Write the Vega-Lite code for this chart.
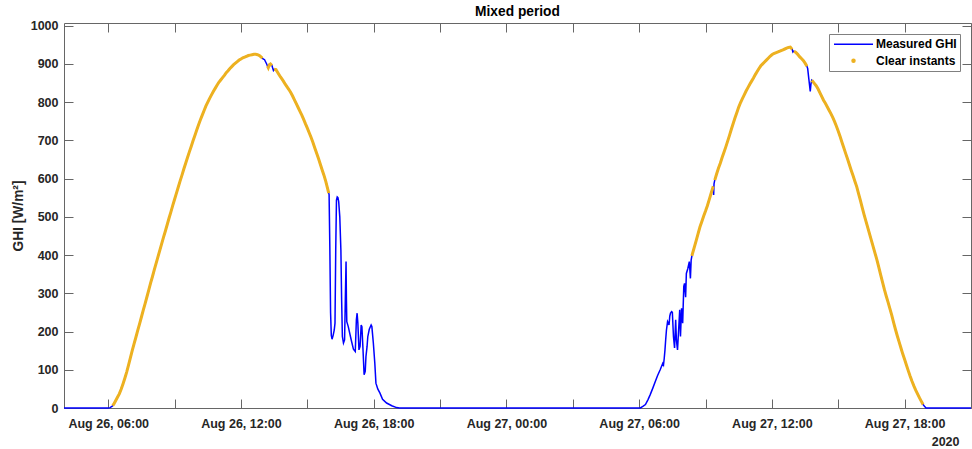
{
  "width": 907,
  "height": 385,
  "autosize": {"type": "none"},
  "padding": {"left": 64, "top": 23, "right": 1, "bottom": 41},
  "background": "white",
  "config": {"view": {"stroke": null}, "font": "Liberation Sans"},
  "title": {"text": "Mixed period", "fontSize": 13.75, "fontWeight": "bold", "font": "Liberation Sans", "color": "#000000", "offset": 1},
  "data": {"values": [
    {"t":"2020-08-26T04:00","g":0,"c":null},
    {"t":"2020-08-26T06:00","g":0,"c":null},
    {"t":"2020-08-26T06:05","g":1,"c":null},
    {"t":"2020-08-26T06:10","g":4,"c":null},
    {"t":"2020-08-26T06:12","g":6,"c":6},
    {"t":"2020-08-26T06:15","g":10,"c":10},
    {"t":"2020-08-26T06:20","g":19,"c":19},
    {"t":"2020-08-26T06:25","g":28,"c":28},
    {"t":"2020-08-26T06:30","g":37,"c":37},
    {"t":"2020-08-26T06:35","g":49,"c":49},
    {"t":"2020-08-26T06:40","g":63,"c":63},
    {"t":"2020-08-26T06:45","g":78,"c":78},
    {"t":"2020-08-26T06:50","g":94,"c":94},
    {"t":"2020-08-26T06:55","g":112,"c":112},
    {"t":"2020-08-26T07:00","g":131,"c":131},
    {"t":"2020-08-26T07:05","g":150,"c":150},
    {"t":"2020-08-26T07:10","g":168,"c":168},
    {"t":"2020-08-26T07:15","g":185,"c":185},
    {"t":"2020-08-26T07:20","g":203,"c":203},
    {"t":"2020-08-26T07:25","g":220,"c":220},
    {"t":"2020-08-26T07:30","g":238,"c":238},
    {"t":"2020-08-26T07:35","g":256,"c":256},
    {"t":"2020-08-26T07:40","g":273,"c":273},
    {"t":"2020-08-26T07:45","g":291,"c":291},
    {"t":"2020-08-26T07:50","g":309,"c":309},
    {"t":"2020-08-26T07:55","g":327,"c":327},
    {"t":"2020-08-26T08:00","g":344,"c":344},
    {"t":"2020-08-26T08:05","g":362,"c":362},
    {"t":"2020-08-26T08:10","g":379,"c":379},
    {"t":"2020-08-26T08:15","g":396,"c":396},
    {"t":"2020-08-26T08:20","g":413,"c":413},
    {"t":"2020-08-26T08:25","g":430,"c":430},
    {"t":"2020-08-26T08:30","g":447,"c":447},
    {"t":"2020-08-26T08:35","g":463,"c":463},
    {"t":"2020-08-26T08:40","g":480,"c":480},
    {"t":"2020-08-26T08:45","g":497,"c":497},
    {"t":"2020-08-26T08:50","g":513,"c":513},
    {"t":"2020-08-26T08:55","g":530,"c":530},
    {"t":"2020-08-26T09:00","g":546,"c":546},
    {"t":"2020-08-26T09:05","g":562,"c":562},
    {"t":"2020-08-26T09:10","g":578,"c":578},
    {"t":"2020-08-26T09:15","g":594,"c":594},
    {"t":"2020-08-26T09:20","g":609,"c":609},
    {"t":"2020-08-26T09:25","g":625,"c":625},
    {"t":"2020-08-26T09:30","g":640,"c":640},
    {"t":"2020-08-26T09:35","g":655,"c":655},
    {"t":"2020-08-26T09:40","g":670,"c":670},
    {"t":"2020-08-26T09:45","g":684,"c":684},
    {"t":"2020-08-26T09:50","g":699,"c":699},
    {"t":"2020-08-26T09:55","g":713,"c":713},
    {"t":"2020-08-26T10:00","g":727,"c":727},
    {"t":"2020-08-26T10:05","g":741,"c":741},
    {"t":"2020-08-26T10:10","g":754,"c":754},
    {"t":"2020-08-26T10:15","g":766,"c":766},
    {"t":"2020-08-26T10:20","g":778,"c":778},
    {"t":"2020-08-26T10:25","g":790,"c":790},
    {"t":"2020-08-26T10:30","g":800,"c":800},
    {"t":"2020-08-26T10:35","g":810,"c":810},
    {"t":"2020-08-26T10:40","g":819,"c":819},
    {"t":"2020-08-26T10:45","g":828,"c":828},
    {"t":"2020-08-26T10:50","g":836,"c":836},
    {"t":"2020-08-26T10:55","g":844,"c":844},
    {"t":"2020-08-26T11:00","g":852,"c":852},
    {"t":"2020-08-26T11:05","g":858,"c":858},
    {"t":"2020-08-26T11:10","g":864,"c":864},
    {"t":"2020-08-26T11:15","g":870,"c":870},
    {"t":"2020-08-26T11:20","g":877,"c":877},
    {"t":"2020-08-26T11:25","g":882,"c":882},
    {"t":"2020-08-26T11:30","g":888,"c":888},
    {"t":"2020-08-26T11:35","g":893,"c":893},
    {"t":"2020-08-26T11:40","g":898,"c":898},
    {"t":"2020-08-26T11:45","g":902,"c":902},
    {"t":"2020-08-26T11:50","g":906,"c":906},
    {"t":"2020-08-26T11:55","g":910,"c":910},
    {"t":"2020-08-26T12:00","g":913,"c":913},
    {"t":"2020-08-26T12:05","g":916,"c":916},
    {"t":"2020-08-26T12:10","g":918,"c":918},
    {"t":"2020-08-26T12:15","g":920,"c":920},
    {"t":"2020-08-26T12:20","g":922,"c":922},
    {"t":"2020-08-26T12:25","g":923,"c":923},
    {"t":"2020-08-26T12:30","g":924,"c":924},
    {"t":"2020-08-26T12:35","g":925,"c":925},
    {"t":"2020-08-26T12:40","g":925,"c":925},
    {"t":"2020-08-26T12:45","g":924,"c":924},
    {"t":"2020-08-26T12:50","g":922,"c":922},
    {"t":"2020-08-26T12:55","g":918,"c":918},
    {"t":"2020-08-26T12:58","g":915,"c":915},
    {"t":"2020-08-26T13:00","g":913,"c":null},
    {"t":"2020-08-26T13:04","g":911,"c":null},
    {"t":"2020-08-26T13:07","g":905,"c":null},
    {"t":"2020-08-26T13:10","g":899,"c":null},
    {"t":"2020-08-26T13:12","g":894,"c":894},
    {"t":"2020-08-26T13:14","g":890,"c":890},
    {"t":"2020-08-26T13:17","g":898,"c":898},
    {"t":"2020-08-26T13:20","g":900,"c":900},
    {"t":"2020-08-26T13:24","g":896,"c":896},
    {"t":"2020-08-26T13:26","g":889,"c":null},
    {"t":"2020-08-26T13:28","g":883,"c":null},
    {"t":"2020-08-26T13:30","g":886,"c":886},
    {"t":"2020-08-26T13:35","g":885,"c":885},
    {"t":"2020-08-26T13:40","g":877,"c":877},
    {"t":"2020-08-26T13:45","g":869,"c":869},
    {"t":"2020-08-26T13:50","g":862,"c":862},
    {"t":"2020-08-26T13:55","g":855,"c":855},
    {"t":"2020-08-26T14:00","g":847,"c":847},
    {"t":"2020-08-26T14:05","g":840,"c":840},
    {"t":"2020-08-26T14:10","g":833,"c":833},
    {"t":"2020-08-26T14:15","g":825,"c":825},
    {"t":"2020-08-26T14:20","g":816,"c":816},
    {"t":"2020-08-26T14:25","g":806,"c":806},
    {"t":"2020-08-26T14:30","g":796,"c":796},
    {"t":"2020-08-26T14:35","g":786,"c":786},
    {"t":"2020-08-26T14:40","g":776,"c":776},
    {"t":"2020-08-26T14:45","g":766,"c":766},
    {"t":"2020-08-26T14:50","g":755,"c":755},
    {"t":"2020-08-26T14:55","g":743,"c":743},
    {"t":"2020-08-26T15:00","g":732,"c":732},
    {"t":"2020-08-26T15:05","g":720,"c":720},
    {"t":"2020-08-26T15:10","g":708,"c":708},
    {"t":"2020-08-26T15:15","g":695,"c":695},
    {"t":"2020-08-26T15:20","g":681,"c":681},
    {"t":"2020-08-26T15:25","g":667,"c":667},
    {"t":"2020-08-26T15:30","g":653,"c":653},
    {"t":"2020-08-26T15:35","g":638,"c":638},
    {"t":"2020-08-26T15:40","g":623,"c":623},
    {"t":"2020-08-26T15:45","g":609,"c":609},
    {"t":"2020-08-26T15:50","g":593,"c":593},
    {"t":"2020-08-26T15:55","g":574,"c":574},
    {"t":"2020-08-26T15:58","g":562,"c":562},
    {"t":"2020-08-26T15:59","g":558,"c":null},
    {"t":"2020-08-26T16:01","g":420,"c":null},
    {"t":"2020-08-26T16:03","g":250,"c":null},
    {"t":"2020-08-26T16:05","g":190,"c":null},
    {"t":"2020-08-26T16:07","g":180,"c":null},
    {"t":"2020-08-26T16:10","g":190,"c":null},
    {"t":"2020-08-26T16:13","g":204,"c":null},
    {"t":"2020-08-26T16:15","g":222,"c":null},
    {"t":"2020-08-26T16:17","g":413,"c":null},
    {"t":"2020-08-26T16:19","g":544,"c":null},
    {"t":"2020-08-26T16:21","g":552,"c":null},
    {"t":"2020-08-26T16:23","g":550,"c":null},
    {"t":"2020-08-26T16:25","g":540,"c":null},
    {"t":"2020-08-26T16:28","g":500,"c":null},
    {"t":"2020-08-26T16:31","g":413,"c":null},
    {"t":"2020-08-26T16:33","g":283,"c":null},
    {"t":"2020-08-26T16:35","g":187,"c":null},
    {"t":"2020-08-26T16:38","g":170,"c":null},
    {"t":"2020-08-26T16:41","g":178,"c":null},
    {"t":"2020-08-26T16:43","g":283,"c":null},
    {"t":"2020-08-26T16:45","g":383,"c":null},
    {"t":"2020-08-26T16:46","g":283,"c":null},
    {"t":"2020-08-26T16:47","g":226,"c":null},
    {"t":"2020-08-26T16:51","g":213,"c":null},
    {"t":"2020-08-26T16:56","g":191,"c":null},
    {"t":"2020-08-26T17:00","g":174,"c":null},
    {"t":"2020-08-26T17:05","g":154,"c":null},
    {"t":"2020-08-26T17:10","g":148,"c":null},
    {"t":"2020-08-26T17:13","g":231,"c":null},
    {"t":"2020-08-26T17:15","g":248,"c":null},
    {"t":"2020-08-26T17:17","g":222,"c":null},
    {"t":"2020-08-26T17:20","g":152,"c":null},
    {"t":"2020-08-26T17:23","g":161,"c":null},
    {"t":"2020-08-26T17:26","g":217,"c":null},
    {"t":"2020-08-26T17:28","g":213,"c":null},
    {"t":"2020-08-26T17:31","g":152,"c":null},
    {"t":"2020-08-26T17:34","g":87,"c":null},
    {"t":"2020-08-26T17:37","g":96,"c":null},
    {"t":"2020-08-26T17:39","g":135,"c":null},
    {"t":"2020-08-26T17:42","g":161,"c":null},
    {"t":"2020-08-26T17:44","g":187,"c":null},
    {"t":"2020-08-26T17:48","g":206,"c":null},
    {"t":"2020-08-26T17:53","g":217,"c":null},
    {"t":"2020-08-26T17:55","g":213,"c":null},
    {"t":"2020-08-26T17:59","g":170,"c":null},
    {"t":"2020-08-26T18:03","g":117,"c":null},
    {"t":"2020-08-26T18:06","g":65,"c":null},
    {"t":"2020-08-26T18:11","g":50,"c":null},
    {"t":"2020-08-26T18:17","g":39,"c":null},
    {"t":"2020-08-26T18:24","g":23,"c":null},
    {"t":"2020-08-26T18:35","g":13,"c":null},
    {"t":"2020-08-26T18:49","g":6,"c":null},
    {"t":"2020-08-26T19:02","g":1,"c":null},
    {"t":"2020-08-26T19:10","g":0,"c":null},
    {"t":"2020-08-27T06:03","g":0,"c":null},
    {"t":"2020-08-27T06:10","g":4,"c":null},
    {"t":"2020-08-27T06:17","g":9,"c":null},
    {"t":"2020-08-27T06:24","g":22,"c":null},
    {"t":"2020-08-27T06:30","g":35,"c":null},
    {"t":"2020-08-27T06:37","g":52,"c":null},
    {"t":"2020-08-27T06:44","g":70,"c":null},
    {"t":"2020-08-27T06:50","g":85,"c":null},
    {"t":"2020-08-27T06:57","g":100,"c":null},
    {"t":"2020-08-27T07:04","g":117,"c":null},
    {"t":"2020-08-27T07:06","g":113,"c":null},
    {"t":"2020-08-27T07:08","g":130,"c":null},
    {"t":"2020-08-27T07:10","g":152,"c":null},
    {"t":"2020-08-27T07:12","g":180,"c":null},
    {"t":"2020-08-27T07:14","g":204,"c":null},
    {"t":"2020-08-27T07:17","g":226,"c":null},
    {"t":"2020-08-27T07:19","g":222,"c":null},
    {"t":"2020-08-27T07:21","g":217,"c":null},
    {"t":"2020-08-27T07:23","g":240,"c":null},
    {"t":"2020-08-27T07:25","g":248,"c":null},
    {"t":"2020-08-27T07:28","g":252,"c":null},
    {"t":"2020-08-27T07:30","g":250,"c":null},
    {"t":"2020-08-27T07:33","g":187,"c":null},
    {"t":"2020-08-27T07:36","g":157,"c":null},
    {"t":"2020-08-27T07:39","g":231,"c":null},
    {"t":"2020-08-27T07:41","g":178,"c":null},
    {"t":"2020-08-27T07:44","g":152,"c":null},
    {"t":"2020-08-27T07:47","g":204,"c":null},
    {"t":"2020-08-27T07:50","g":257,"c":null},
    {"t":"2020-08-27T07:52","g":187,"c":null},
    {"t":"2020-08-27T07:55","g":261,"c":null},
    {"t":"2020-08-27T07:58","g":222,"c":null},
    {"t":"2020-08-27T08:01","g":318,"c":null},
    {"t":"2020-08-27T08:03","g":326,"c":null},
    {"t":"2020-08-27T08:06","g":290,"c":null},
    {"t":"2020-08-27T08:08","g":352,"c":null},
    {"t":"2020-08-27T08:12","g":365,"c":null},
    {"t":"2020-08-27T08:16","g":383,"c":null},
    {"t":"2020-08-27T08:19","g":339,"c":null},
    {"t":"2020-08-27T08:21","g":387,"c":null},
    {"t":"2020-08-27T08:23","g":398,"c":398},
    {"t":"2020-08-27T08:25","g":405,"c":405},
    {"t":"2020-08-27T08:30","g":422,"c":422},
    {"t":"2020-08-27T08:35","g":439,"c":439},
    {"t":"2020-08-27T08:40","g":457,"c":457},
    {"t":"2020-08-27T08:45","g":474,"c":474},
    {"t":"2020-08-27T08:50","g":488,"c":488},
    {"t":"2020-08-27T08:55","g":502,"c":502},
    {"t":"2020-08-27T09:00","g":515,"c":515},
    {"t":"2020-08-27T09:05","g":529,"c":529},
    {"t":"2020-08-27T09:10","g":545,"c":545},
    {"t":"2020-08-27T09:15","g":561,"c":561},
    {"t":"2020-08-27T09:20","g":577,"c":577},
    {"t":"2020-08-27T09:21","g":580,"c":580},
    {"t":"2020-08-27T09:22","g":557,"c":null},
    {"t":"2020-08-27T09:23","g":586,"c":null},
    {"t":"2020-08-27T09:25","g":596,"c":596},
    {"t":"2020-08-27T09:30","g":612,"c":612},
    {"t":"2020-08-27T09:35","g":627,"c":627},
    {"t":"2020-08-27T09:40","g":640,"c":640},
    {"t":"2020-08-27T09:45","g":655,"c":655},
    {"t":"2020-08-27T09:50","g":669,"c":669},
    {"t":"2020-08-27T09:55","g":683,"c":683},
    {"t":"2020-08-27T10:00","g":698,"c":698},
    {"t":"2020-08-27T10:05","g":713,"c":713},
    {"t":"2020-08-27T10:10","g":729,"c":729},
    {"t":"2020-08-27T10:15","g":744,"c":744},
    {"t":"2020-08-27T10:20","g":759,"c":759},
    {"t":"2020-08-27T10:25","g":773,"c":773},
    {"t":"2020-08-27T10:30","g":787,"c":787},
    {"t":"2020-08-27T10:35","g":799,"c":799},
    {"t":"2020-08-27T10:40","g":809,"c":809},
    {"t":"2020-08-27T10:45","g":819,"c":819},
    {"t":"2020-08-27T10:50","g":829,"c":829},
    {"t":"2020-08-27T10:55","g":838,"c":838},
    {"t":"2020-08-27T11:00","g":847,"c":847},
    {"t":"2020-08-27T11:05","g":855,"c":855},
    {"t":"2020-08-27T11:10","g":863,"c":863},
    {"t":"2020-08-27T11:15","g":872,"c":872},
    {"t":"2020-08-27T11:20","g":880,"c":880},
    {"t":"2020-08-27T11:25","g":888,"c":888},
    {"t":"2020-08-27T11:30","g":895,"c":895},
    {"t":"2020-08-27T11:35","g":900,"c":900},
    {"t":"2020-08-27T11:40","g":905,"c":905},
    {"t":"2020-08-27T11:45","g":910,"c":910},
    {"t":"2020-08-27T11:50","g":915,"c":915},
    {"t":"2020-08-27T11:55","g":920,"c":920},
    {"t":"2020-08-27T12:00","g":924,"c":924},
    {"t":"2020-08-27T12:05","g":927,"c":927},
    {"t":"2020-08-27T12:10","g":929,"c":929},
    {"t":"2020-08-27T12:15","g":931,"c":931},
    {"t":"2020-08-27T12:20","g":933,"c":933},
    {"t":"2020-08-27T12:25","g":935,"c":935},
    {"t":"2020-08-27T12:30","g":937,"c":937},
    {"t":"2020-08-27T12:35","g":939,"c":939},
    {"t":"2020-08-27T12:40","g":941,"c":941},
    {"t":"2020-08-27T12:45","g":943,"c":943},
    {"t":"2020-08-27T12:50","g":944,"c":944},
    {"t":"2020-08-27T12:55","g":938,"c":938},
    {"t":"2020-08-27T12:57","g":931,"c":null},
    {"t":"2020-08-27T12:59","g":933,"c":null},
    {"t":"2020-08-27T13:00","g":933,"c":933},
    {"t":"2020-08-27T13:05","g":930,"c":930},
    {"t":"2020-08-27T13:10","g":925,"c":925},
    {"t":"2020-08-27T13:15","g":919,"c":919},
    {"t":"2020-08-27T13:20","g":914,"c":914},
    {"t":"2020-08-27T13:25","g":909,"c":909},
    {"t":"2020-08-27T13:30","g":902,"c":902},
    {"t":"2020-08-27T13:35","g":894,"c":894},
    {"t":"2020-08-27T13:37","g":888,"c":null},
    {"t":"2020-08-27T13:40","g":862,"c":null},
    {"t":"2020-08-27T13:42","g":845,"c":null},
    {"t":"2020-08-27T13:44","g":828,"c":null},
    {"t":"2020-08-27T13:46","g":848,"c":null},
    {"t":"2020-08-27T13:48","g":857,"c":857},
    {"t":"2020-08-27T13:50","g":855,"c":855},
    {"t":"2020-08-27T13:55","g":849,"c":849},
    {"t":"2020-08-27T14:00","g":843,"c":843},
    {"t":"2020-08-27T14:05","g":835,"c":835},
    {"t":"2020-08-27T14:10","g":825,"c":825},
    {"t":"2020-08-27T14:15","g":815,"c":815},
    {"t":"2020-08-27T14:20","g":805,"c":805},
    {"t":"2020-08-27T14:25","g":797,"c":797},
    {"t":"2020-08-27T14:30","g":788,"c":788},
    {"t":"2020-08-27T14:35","g":779,"c":779},
    {"t":"2020-08-27T14:40","g":770,"c":770},
    {"t":"2020-08-27T14:45","g":760,"c":760},
    {"t":"2020-08-27T14:50","g":749,"c":749},
    {"t":"2020-08-27T14:55","g":737,"c":737},
    {"t":"2020-08-27T15:00","g":724,"c":724},
    {"t":"2020-08-27T15:05","g":710,"c":710},
    {"t":"2020-08-27T15:10","g":695,"c":695},
    {"t":"2020-08-27T15:15","g":681,"c":681},
    {"t":"2020-08-27T15:20","g":666,"c":666},
    {"t":"2020-08-27T15:25","g":652,"c":652},
    {"t":"2020-08-27T15:30","g":637,"c":637},
    {"t":"2020-08-27T15:35","g":622,"c":622},
    {"t":"2020-08-27T15:40","g":608,"c":608},
    {"t":"2020-08-27T15:45","g":593,"c":593},
    {"t":"2020-08-27T15:50","g":579,"c":579},
    {"t":"2020-08-27T15:55","g":561,"c":561},
    {"t":"2020-08-27T16:00","g":543,"c":543},
    {"t":"2020-08-27T16:05","g":524,"c":524},
    {"t":"2020-08-27T16:10","g":506,"c":506},
    {"t":"2020-08-27T16:15","g":489,"c":489},
    {"t":"2020-08-27T16:20","g":472,"c":472},
    {"t":"2020-08-27T16:25","g":455,"c":455},
    {"t":"2020-08-27T16:30","g":438,"c":438},
    {"t":"2020-08-27T16:35","g":421,"c":421},
    {"t":"2020-08-27T16:40","g":404,"c":404},
    {"t":"2020-08-27T16:45","g":387,"c":387},
    {"t":"2020-08-27T16:50","g":368,"c":368},
    {"t":"2020-08-27T16:55","g":348,"c":348},
    {"t":"2020-08-27T17:00","g":329,"c":329},
    {"t":"2020-08-27T17:05","g":310,"c":310},
    {"t":"2020-08-27T17:10","g":293,"c":293},
    {"t":"2020-08-27T17:15","g":277,"c":277},
    {"t":"2020-08-27T17:20","g":260,"c":260},
    {"t":"2020-08-27T17:25","g":243,"c":243},
    {"t":"2020-08-27T17:30","g":224,"c":224},
    {"t":"2020-08-27T17:35","g":206,"c":206},
    {"t":"2020-08-27T17:40","g":189,"c":189},
    {"t":"2020-08-27T17:45","g":173,"c":173},
    {"t":"2020-08-27T17:50","g":157,"c":157},
    {"t":"2020-08-27T17:55","g":141,"c":141},
    {"t":"2020-08-27T18:00","g":127,"c":127},
    {"t":"2020-08-27T18:05","g":112,"c":112},
    {"t":"2020-08-27T18:10","g":97,"c":97},
    {"t":"2020-08-27T18:15","g":83,"c":83},
    {"t":"2020-08-27T18:20","g":70,"c":70},
    {"t":"2020-08-27T18:25","g":58,"c":58},
    {"t":"2020-08-27T18:30","g":47,"c":47},
    {"t":"2020-08-27T18:35","g":37,"c":37},
    {"t":"2020-08-27T18:40","g":27,"c":27},
    {"t":"2020-08-27T18:45","g":18,"c":18},
    {"t":"2020-08-27T18:50","g":9,"c":9},
    {"t":"2020-08-27T18:55","g":3,"c":null},
    {"t":"2020-08-27T18:58","g":0,"c":null},
    {"t":"2020-08-27T21:00","g":0,"c":null}
  ]},
  "layer": [
    {
      "mark": {"type": "line", "strokeWidth": 1.5},
      "encoding": {
        "x": {"field": "t", "type": "temporal",
          "axis": {"orient": "bottom", "format": "%b %d, %H:%M",
            "grid": false, "domainColor": "#666666", "tickColor": "#666666", "tickSize": -9, "labelPadding": 18,
            "labelFont": "Liberation Sans", "labelFontSize": 12.5, "labelFontWeight": "bold", "labelColor": "#262626",
            "title": "2020", "titleX": 895, "titleY": 33, "titleAlign": "right", "titleBaseline": "middle",
            "titleFont": "Liberation Sans", "titleFontSize": 12.5, "titleFontWeight": "bold", "titleColor": "#262626"}},
        "y": {"field": "g", "type": "quantitative",
          "scale": {"domain": [0, 1007], "nice": false},
          "axis": {"orient": "left", "values": [0,100,200,300,400,500,600,700,800,900,1000], "format": "d",
            "grid": false, "domainColor": "#666666", "tickColor": "#666666", "tickSize": -9, "labelPadding": 15,
            "labelFont": "Liberation Sans", "labelFontSize": 12.5, "labelFontWeight": "bold", "labelColor": "#262626",
            "title": "GHI [W/m²]", "titlePadding": 5, "titleFont": "Liberation Sans", "titleFontSize": 13.75,
            "titleFontWeight": "bold", "titleColor": "#262626"}},
        "color": {"datum": "Measured GHI",
          "scale": {"domain": ["Measured GHI", "Clear instants"], "range": ["#0000FF", "#EDB120"]},
          "legend": {"title": null, "orient": "top-right", "offset": 11, "strokeColor": "#808080", "fillColor": "#ffffff",
            "padding": 3.3, "rowPadding": 3.5, "labelFont": "Liberation Sans", "labelFontSize": 12, "labelFontWeight": "bold", "labelColor": "#000000",
            "symbolType": "stroke", "symbolSize": 144, "symbolStrokeWidth": 1.5, "labelOffset": 29.7,
            "encode": {"symbols": {"update": {
              "x": {"value": 21.2},
              "shape": {"signal": "datum.value === 'Clear instants' ? 'circle' : 'M-3.25,0H3.25'"},
              "size": {"signal": "datum.value === 'Clear instants' ? 9 : 144"},
              "fill": {"signal": "datum.value === 'Clear instants' ? '#EDB120' : 'transparent'"},
              "stroke": {"signal": "datum.value === 'Clear instants' ? 'transparent' : '#0000FF'"},
              "strokeWidth": {"value": 1.5}}}}}}
      }
    },
    {
      "mark": {"type": "line", "strokeWidth": 3},
      "encoding": {
        "x": {"field": "t", "type": "temporal",
          "axis": {"orient": "top", "labels": false, "title": null,
            "grid": false, "domainColor": "#666666", "tickColor": "#666666", "tickSize": -9}},
        "y": {"field": "c", "type": "quantitative",
          "scale": {"domain": [0, 1007], "nice": false},
          "axis": {"orient": "right", "labels": false, "title": null, "values": [0,100,200,300,400,500,600,700,800,900,1000],
            "grid": false, "domainColor": "#666666", "tickColor": "#666666", "tickSize": -9}},
        "color": {"datum": "Clear instants"}
      }
    }
  ],
  "resolve": {"axis": {"x": "independent", "y": "independent"}}
}
